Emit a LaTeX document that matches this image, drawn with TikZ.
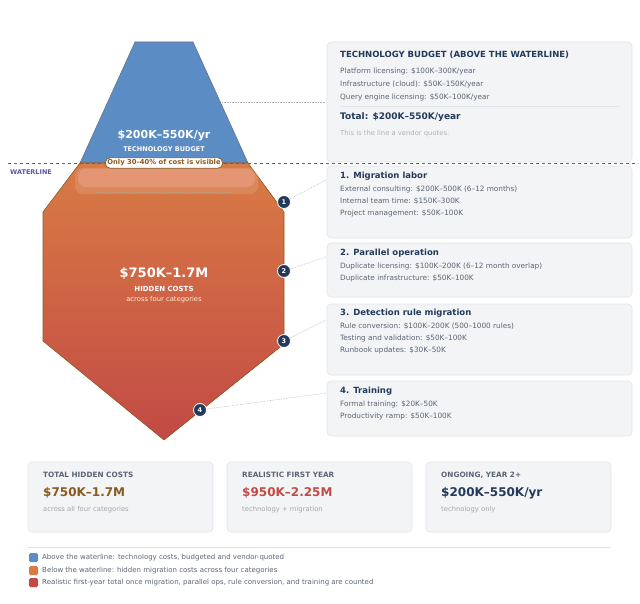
\documentclass[tikz,border=0pt]{standalone}
\usepackage{fontspec}
\setmainfont{DejaVu Sans}
\begin{document}
\begin{tikzpicture}[x=1pt,y=-1pt,
  box/.style={fill=boxbg,draw=boxbd,rounded corners=4pt,line width=0.6pt},
  ttl/.style={anchor=west,font=\bfseries\fontsize{8.5}{10}\selectfont,text=navy,inner sep=0},
  ln/.style={anchor=west,font=\fontsize{7.3}{9}\selectfont,text=txtg,inner sep=0},
  num/.style={circle,fill=navy,draw=white,line width=0.8pt,minimum size=13pt,inner sep=0,text=white,font=\bfseries\fontsize{6.5}{7}\selectfont},
  dot/.style={draw=gray!60,densely dotted,line width=0.6pt},
  lab/.style={anchor=west,font=\bfseries\fontsize{7.3}{9}\selectfont,text=txtg,inner sep=0},
  val/.style={anchor=west,font=\bfseries\fontsize{12}{14}\selectfont,inner sep=0},
  sub/.style={anchor=west,font=\fontsize{6.8}{8}\selectfont,text=gray!70,inner sep=0},
  leg/.style={anchor=west,font=\fontsize{7}{8}\selectfont,text=txtg,inner sep=0}]
\definecolor{boxbg}{HTML}{F3F4F6}\definecolor{boxbd}{HTML}{E0E3E8}
\definecolor{navy}{HTML}{233A5A}\definecolor{txtg}{HTML}{5A6474}
\definecolor{blu}{HTML}{5B8CC4}\definecolor{orn}{HTML}{D97B45}\definecolor{redd}{HTML}{C24A45}
\definecolor{brn}{HTML}{8A5A20}
\useasboundingbox (0,0) rectangle (640,604);
% blue tip
\draw[fill=blu,draw=navy!70,line width=0.6pt] (135,42)--(193,42)--(248,163)--(80,163)--cycle;
% orange body
\path[top color=orn,bottom color=redd] (80,163)--(248,163)--(284,212)--(284,344)--(164,440)--(43,341)--(43,212)--cycle;
\draw[draw=brn,line width=0.6pt] (80,163)--(248,163)--(284,212)--(284,344)--(164,440)--(43,341)--(43,212)--cycle;
\fill[white,opacity=0.12,rounded corners=8pt] (75,168) rectangle (258,194);
\fill[pink,opacity=0.25,rounded corners=8pt] (78,169) rectangle (255,187);
\draw[densely dotted,draw=brn!60,line width=0.4pt] (95,192)--(232,192);
% waterline
\draw[dashed,draw=gray!70!blue,line width=0.7pt] (8,163)--(638,163);
\node[anchor=west,inner sep=0,font=\bfseries\fontsize{6.5}{7}\selectfont,text=gray!70!blue] (wl) at (10,172) {WATERLINE};
% main texts
\node[text=white,font=\bfseries\fontsize{11}{12}\selectfont] (t1) at (164,136) {\$200K–550K/yr};
\node[text=white,font=\bfseries\fontsize{6.5}{7}\selectfont] (t2) at (164,149) {TECHNOLOGY BUDGET};
\node[fill=white,draw=brn,rounded corners=5pt,line width=0.7pt,inner sep=2pt,text=brn,font=\bfseries\fontsize{6.8}{7}\selectfont] (badge) at (164,163) {Only 30–40\% of cost is visible};
\node[text=white,font=\bfseries\fontsize{13}{14}\selectfont] (h1) at (164,274) {\$750K–1.7M};
\node[text=white,font=\bfseries\fontsize{7}{8}\selectfont] (h2) at (164,289) {HIDDEN COSTS};
\node[text=white!85!orange,font=\fontsize{6.8}{8}\selectfont] (h3) at (164,300) {across four categories};
% right boxes
\draw[box] (327,42) rectangle (632,162);
\draw[box] (327,166) rectangle (632,238);
\draw[box] (327,243) rectangle (632,297);
\draw[box] (327,304) rectangle (632,375);
\draw[box] (327,381) rectangle (632,436);
\node[ttl] at (340,55) {TECHNOLOGY BUDGET (ABOVE THE WATERLINE)};
\node[ln] at (340,71) {Platform licensing: \$100K–300K/year};
\node[ln] at (340,84) {Infrastructure (cloud): \$50K–150K/year};
\node[ln] at (340,97) {Query engine licensing: \$50K–100K/year};
\draw[boxbd,line width=0.6pt] (340,106)--(620,106);
\node[ttl,font=\bfseries\fontsize{9}{10}\selectfont] at (340,117) {Total: \$200K–550K/year};
\node[ln,text=gray!60,font=\fontsize{6.8}{8}\selectfont] at (340,134) {This is the line a vendor quotes.};
\node[ttl] at (340,176) {1. Migration labor};
\node[ln] at (340,189) {External consulting: \$200K–500K (6–12 months)};
\node[ln] at (340,201) {Internal team time: \$150K–300K};
\node[ln] at (340,213) {Project management: \$50K–100K};
\node[ttl] at (340,253) {2. Parallel operation};
\node[ln] at (340,266) {Duplicate licensing: \$100K–200K (6–12 month overlap)};
\node[ln] at (340,278) {Duplicate infrastructure: \$50K–100K};
\node[ttl] at (340,313) {3. Detection rule migration};
\node[ln] at (340,326) {Rule conversion: \$100K–200K (500–1000 rules)};
\node[ln] at (340,338) {Testing and validation: \$50K–100K};
\node[ln] at (340,350) {Runbook updates: \$30K–50K};
\node[ttl] at (340,391) {4. Training};
\node[ln] at (340,404) {Formal training: \$20K–50K};
\node[ln] at (340,416) {Productivity ramp: \$50K–100K};
% connectors
\coordinate (c0a) at (222,102); \coordinate (c0b) at (325,102);
\coordinate (e1) at (326,180); \coordinate (e2) at (326,257);
\coordinate (e3) at (326,320); \coordinate (e4) at (326,393);
\node[num] (n1) at (284,202) {1};
\node[num] (n2) at (284,271) {2};
\node[num] (n3) at (284,341) {3};
\node[num] (n4) at (200,410) {4};
\draw[dot] (c0a)--(c0b);
\draw[dot] (n1)--(e1); \draw[dot] (n2)--(e2); \draw[dot] (n3)--(e3); \draw[dot] (n4)--(e4);
% bottom cards
\draw[box] (28,462) rectangle (213,532);
\draw[box] (227,462) rectangle (412,532);
\draw[box] (426,462) rectangle (611,532);
\node[lab] at (43,475) {TOTAL HIDDEN COSTS};
\node[val,text=brn] at (43,493) {\$750K–1.7M};
\node[sub] at (43,510) {across all four categories};
\node[lab] at (242,475) {REALISTIC FIRST YEAR};
\node[val,text=redd] at (242,493) {\$950K–2.25M};
\node[sub] at (242,510) {technology + migration};
\node[lab] at (441,475) {ONGOING, YEAR 2+};
\node[val,text=navy] at (441,493) {\$200K–550K/yr};
\node[sub] at (441,510) {technology only};
\draw[boxbd,line width=0.6pt] (28,547)--(611,547);
% legend
\fill[blu,rounded corners=1.5pt] (29,553) rectangle (38,562);
\fill[orn,rounded corners=1.5pt] (29,566) rectangle (38,575);
\fill[redd,rounded corners=1.5pt] (29,578) rectangle (38,587);
\node[leg] at (42,558) {Above the waterline: technology costs, budgeted and vendor-quoted};
\node[leg] at (42,570.5) {Below the waterline: hidden migration costs across four categories};
\node[leg] at (42,582.5) {Realistic first-year total once migration, parallel ops, rule conversion, and training are counted};
\end{tikzpicture}
\end{document}
